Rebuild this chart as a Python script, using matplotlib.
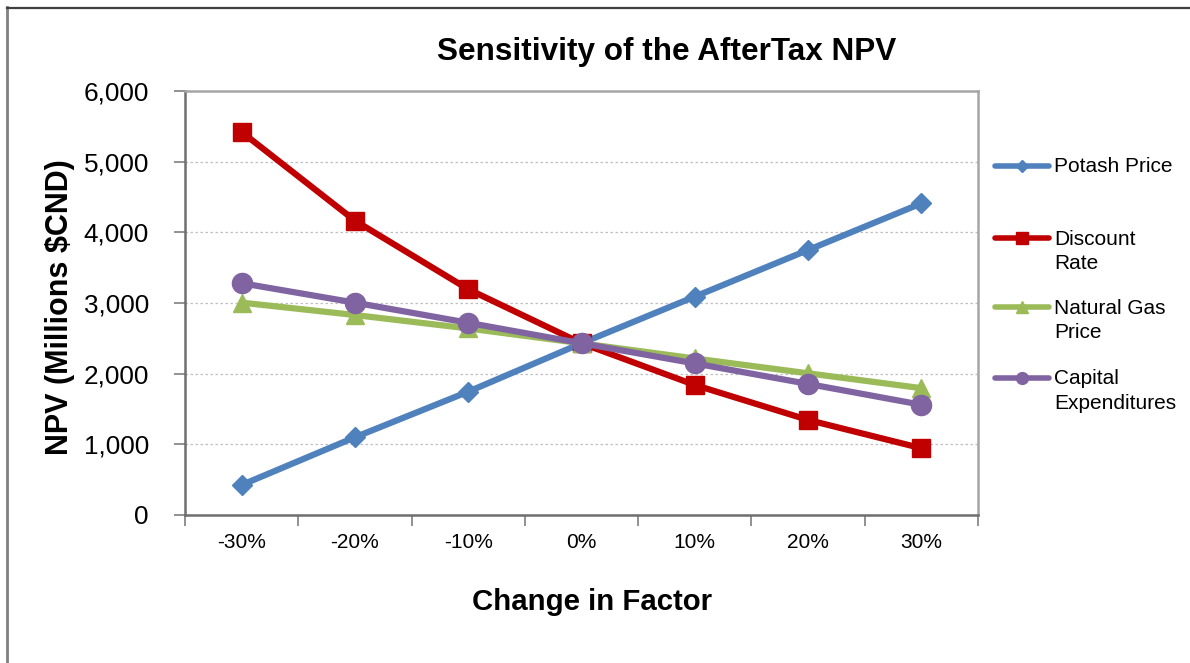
import matplotlib.pyplot as plt
from matplotlib.lines import Line2D
from matplotlib.ticker import FuncFormatter, FixedLocator

plt.rcParams['font.family'] = ['Liberation Sans', 'DejaVu Sans']

# Sensitivity data (NPV in millions $CND)
factors = ['-30%', '-20%', '-10%', '0%', '10%', '20%', '30%']
potash_price = [425, 1100, 1745, 2430, 3090, 3750, 4410]
discount_rate = [5420, 4165, 3195, 2430, 1840, 1345, 945]
natural_gas = [3005, 2830, 2640, 2430, 2215, 2005, 1795]
capital_exp = [3280, 3005, 2720, 2430, 2145, 1855, 1560]

series = [
    ('Potash Price', potash_price, '#4F81BD', 'D', 10),
    ('Discount\nRate', discount_rate, '#C00000', 's', 13.5),
    ('Natural Gas\nPrice', natural_gas, '#9BBB59', '^', 13.5),
    ('Capital\nExpenditures', capital_exp, '#8064A2', 'o', 14.5),
]

W, H = 1190, 663
fig = plt.figure(figsize=(W / 100, H / 100), dpi=100)
ax = fig.add_axes([185 / W, 1 - 515 / H, (978 - 185) / W, (515 - 91) / H])

x = list(range(len(factors)))
for name, vals, color, mk, ms in series:
    ax.plot(x, vals, color=color, lw=4.5, marker=mk, markersize=ms,
            markerfacecolor=color, markeredgecolor=color, zorder=3,
            solid_capstyle='round')

ax.set_ylim(0, 6000)
ax.set_xlim(-0.5, len(factors) - 0.5)
ax.set_yticks(range(0, 6001, 1000))
ax.yaxis.set_major_formatter(FuncFormatter(lambda v, p: f'{int(v):,}'))
ax.tick_params(axis='y', labelsize=18.8, length=8, width=1.2, color='#7F7F7F', pad=18)

# category boundaries get tick marks, labels sit at category centres
ax.xaxis.set_major_locator(FixedLocator([i - 0.5 for i in range(len(factors) + 1)]))
ax.xaxis.set_minor_locator(FixedLocator(x))
ax.set_xticklabels([], minor=False)
ax.set_xticklabels(factors, minor=True)
ax.tick_params(axis='x', which='major', length=8, width=1.2, color='#7F7F7F')
ax.tick_params(axis='x', which='minor', length=0, labelsize=15, pad=13)

ax.grid(axis='y', color='#BFBFBF', linestyle=(0, (2, 2)), lw=0.9)
ax.set_axisbelow(True)
for side in ['left', 'bottom']:
    ax.spines[side].set_color('#6E6E6E')
    ax.spines[side].set_linewidth(1.8)
for side in ['top', 'right']:
    ax.spines[side].set_color('#A6A6A6')
    ax.spines[side].set_linewidth(1.8)

ax.set_ylabel('NPV (Millions $CND)', fontsize=22, fontweight='bold')
ax.yaxis.set_label_coords((60 - 185) / 793, (515 - 307) / 424)
ax.yaxis.label.set_va('center')
ax.set_xlabel('Change in Factor', fontsize=21.2, fontweight='bold')
ax.xaxis.set_label_coords((592 - 185) / 793, (515 - 602) / 424)
ax.xaxis.label.set_va('center')

fig.text(667 / W, 1 - 52 / H, 'Sensitivity of the AfterTax NPV',
         fontsize=22.7, fontweight='bold', ha='center', va='center')

# legend on the right, keyed to the first line of each label
key_y = [166, 238, 307, 378]
small_ms = {'D': 6.5, 's': 8, '^': 8.5, 'o': 8.5}
for (name, vals, color, mk, ms), yk in zip(series, key_y):
    yf = 1 - yk / H
    fig.add_artist(Line2D([995 / W, 1049 / W], [yf, yf], color=color, lw=4,
                          solid_capstyle='round'))
    fig.add_artist(Line2D([1022 / W], [yf], marker=mk, markersize=small_ms[mk],
                          color=color, lw=0))
    for j, line in enumerate(name.split('\n')):
        fig.text(1054 / W, 1 - (yk + 1 + 24.5 * j) / H, line, fontsize=15,
                 ha='left', va='center')

# chart area border
fig.add_artist(Line2D([7 / W, 7 / W], [-0.01, 1 - 7 / H], color='#808080', lw=2))
fig.add_artist(Line2D([7 / W, 1.01], [1 - 7.5 / H, 1 - 7.5 / H], color='#404040', lw=1.6))

fig.savefig('out.png', dpi=100)
